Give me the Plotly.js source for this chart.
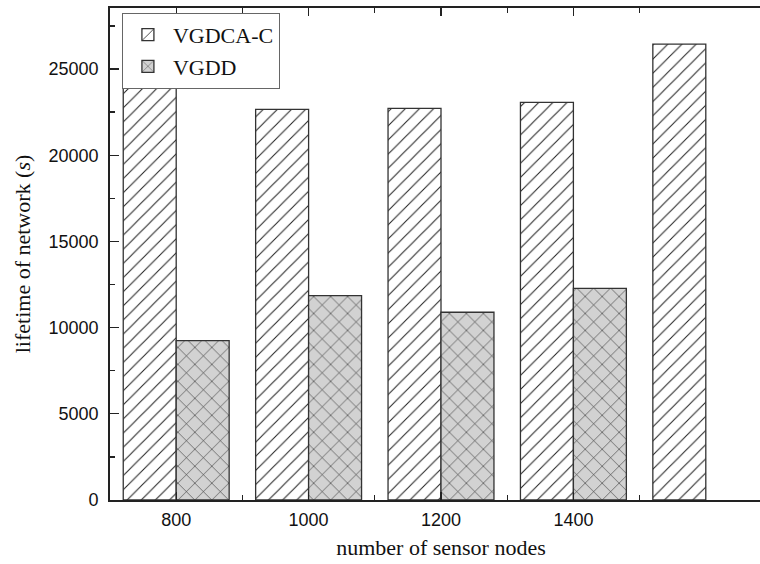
<!DOCTYPE html>
<html>
<head>
<meta charset="utf-8">
<script src="https://cdn.plot.ly/plotly-3.0.1.min.js"></script>
<style>
html,body{margin:0;padding:0;overflow:hidden;background:#fff;width:760px;height:564px;}
#chart{width:790px;height:564px;}
</style>
</head>
<body>
<div id="chart"></div>
<script>
// Data
const nodes = [800, 1000, 1200, 1400, 1600];
const vgdcaC = [24170, 22660, 22720, 23070, 26450];
const vgddNodes = [800, 1000, 1200, 1400];
const vgdd = [9240, 11850, 10890, 12280];
const tickVals = [800, 1000, 1200, 1400];
const tickText = ['800', '1000', '1200', '1400'];
const yTickVals = [0, 5000, 10000, 15000, 20000, 25000];

const traces = [
  {
    type: 'bar', name: 'VGDCA-C', x: nodes, y: vgdcaC,
    offset: -80, width: 80,
    marker: {
      color: 'white',
      line: {color: '#333', width: 1.3},
      pattern: {shape: '/', bgcolor: 'white', fgcolor: '#222', size: 10, solidity: 0.1}
    },
    hoverinfo: 'skip'
  },
  {
    type: 'bar', name: 'VGDD', x: vgddNodes, y: vgdd,
    offset: 0, width: 80,
    marker: {
      color: '#d2d2d2',
      line: {color: '#333', width: 1.3},
      pattern: {shape: 'x', bgcolor: '#d2d2d2', fgcolor: '#222', size: 12, solidity: 0.09}
    },
    hoverinfo: 'skip'
  }
];

const layout = {
  width: 790, height: 564,
  margin: {l: 110, r: 18, t: 8, b: 64},
  paper_bgcolor: 'white', plot_bgcolor: 'white',
  barmode: 'overlay',
  showlegend: true,
  legend: {
    x: 0.018, y: 0.99, xanchor: 'left', yanchor: 'top',
    bgcolor: 'white', bordercolor: '#666', borderwidth: 1,
    font: {family: 'Liberation Serif, Times New Roman, serif', size: 22, color: '#111'},
    tracegroupgap: 0, itemwidth: 40
  },
  xaxis: {
    range: [700, 1700],
    tickmode: 'array', tickvals: tickVals, ticktext: tickText,
    ticks: 'inside', ticklen: 8, tickwidth: 1.3, tickcolor: '#222',
    ticklabelstandoff: 3,
    minor: {tickmode: 'array', tickvals: [900, 1100, 1300, 1500], ticks: 'inside', ticklen: 5, tickwidth: 1.3, tickcolor: '#222'},
    showline: true, linecolor: '#222', linewidth: 1.8, mirror: 'ticks',
    showgrid: false, zeroline: false,
    tickfont: {family: 'Liberation Sans, Arial, sans-serif', size: 18, color: '#111'},
    title: {text: 'number of sensor nodes', font: {family: 'Liberation Serif, Times New Roman, serif', size: 22, color: '#111'}, standoff: 10}
  },
  yaxis: {
    range: [0, 28540],
    tickmode: 'array', tickvals: yTickVals, ticktext: yTickVals.map(String),
    ticks: 'inside', ticklen: 9, tickwidth: 1.3, tickcolor: '#222',
    ticklabelstandoff: 6,
    minor: {dtick: 2500, ticks: 'inside', ticklen: 5, tickwidth: 1.3, tickcolor: '#222'},
    showline: true, linecolor: '#222', linewidth: 1.8, mirror: 'ticks',
    showgrid: false, zeroline: false,
    tickfont: {family: 'Liberation Sans, Arial, sans-serif', size: 18, color: '#111'},
    title: {text: 'lifetime of network (<i>s</i>)', font: {family: 'Liberation Serif, Times New Roman, serif', size: 22, color: '#111'}, standoff: 12}
  },
  hovermode: false
};

Plotly.newPlot('chart', traces, layout, {displayModeBar: false, staticPlot: true});
</script>
</body>
</html>
